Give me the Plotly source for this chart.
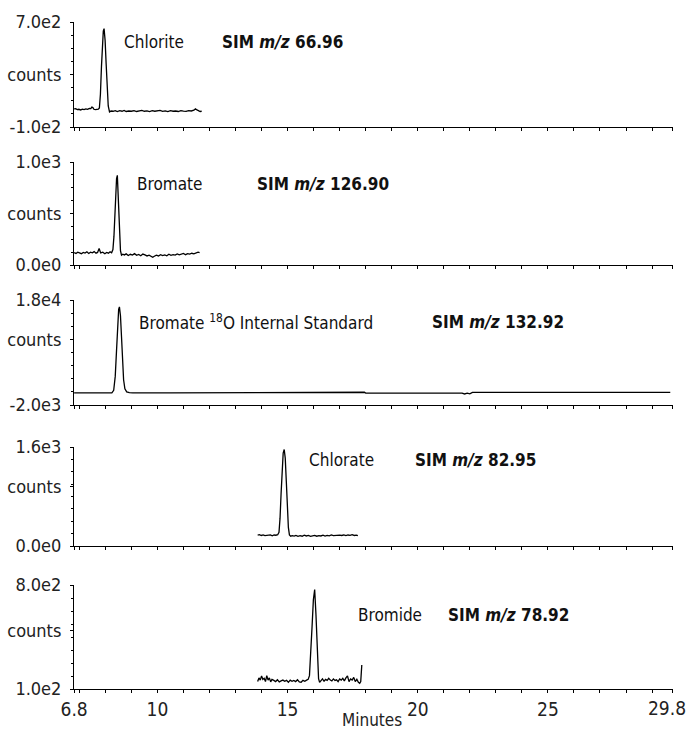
import plotly.graph_objects as go

# ---------------- data ----------------
t_chlorite = [6.80, 6.86, 6.92, 6.98, 7.05, 7.12, 7.18, 7.25, 7.32, 7.38, 7.44, 7.48,
              7.52, 7.56, 7.62, 7.68, 7.73, 7.77, 7.81, 7.85, 7.89, 7.92, 7.95, 7.99,
              8.03, 8.07, 8.11, 8.16, 8.22, 8.30, 8.38, 8.46, 8.55, 8.64, 8.72, 8.80,
              8.90, 9.00, 9.10, 9.20, 9.30, 9.40, 9.50, 9.60, 9.70, 9.80, 9.90, 10.00,
              10.10, 10.20, 10.30, 10.40, 10.50, 10.60, 10.70, 10.80, 10.90, 11.00, 11.10,
              11.20, 11.30, 11.40, 11.46, 11.52, 11.58, 11.64, 11.70]
v_chlorite = [38, 40, 33, 35, 30, 36, 33, 38, 35, 42, 40, 52,
              48, 35, 33, 36, 36, 45, 150, 360, 540, 630, 650, 560,
              380, 190, 60, 15, 22, 20, 25, 18, 24, 20, 26, 18,
              22, 20, 25, 18, 22, 26, 20, 23, 18, 24, 20, 22,
              26, 19, 23, 18, 24, 20, 22, 18, 25, 21, 19,
              24, 22, 28, 38, 30, 22, 18, 20]

t_bromate = [6.80, 6.87, 6.94, 7.01, 7.08, 7.15, 7.22, 7.29, 7.36, 7.43, 7.50, 7.57, 7.64,
             7.70, 7.76, 7.82, 7.90, 7.98, 8.05, 8.12, 8.18, 8.24, 8.29,
             8.33, 8.37, 8.40, 8.43, 8.46, 8.50, 8.54, 8.58, 8.62, 8.67,
             8.73, 8.80, 8.88, 8.96, 9.04, 9.12, 9.20, 9.28, 9.36, 9.44,
             9.52, 9.60, 9.68, 9.76, 9.82, 9.88, 9.96, 10.04, 10.12, 10.20,
             10.28, 10.36, 10.44, 10.52, 10.60, 10.68, 10.76, 10.84, 10.92, 11.00,
             11.08, 11.16, 11.24, 11.32, 11.40, 11.48, 11.56, 11.62]
v_bromate = [120, 112, 125, 118, 110, 122, 116, 128, 112, 124, 118, 130, 115,
             122, 160, 118, 125, 110, 122, 115, 128, 118, 150,
             280, 520, 720, 840, 870, 640, 330, 140, 95, 105,
             98, 108, 92, 104, 96, 110, 94, 102, 90, 106,
             98, 88, 95, 82, 75, 85, 95, 88, 100, 92,
             98, 90, 104, 94, 100, 96, 108, 98, 104, 112,
             100, 110, 105, 114, 108, 118, 125, 120]

t_is = [6.80, 7.50, 8.00, 8.25, 8.32, 8.38, 8.43, 8.47, 8.51, 8.54,
        8.58, 8.62, 8.66, 8.70, 8.75, 8.82, 8.92, 9.05, 10.50, 12.00,
        13.80, 13.85, 15.50, 17.00, 17.95, 18.00, 19.50, 21.00, 21.50, 21.60,
        21.70, 21.80, 21.90, 22.00, 22.10, 24.00, 26.00, 28.00, 29.70]
v_is = [300, 310, 300, 320, 800, 3500, 8500, 13500, 16200, 16700,
        15000, 11000, 6000, 2800, 1100, 500, 340, 310, 300, 305,
        300, 420, 430, 420, 425, 260, 250, 255, 250, 120,
        250, 100, 250, 130, 400, 410, 400, 405, 400]

t_chlorate = [13.85, 13.92, 13.99, 14.06, 14.13, 14.20, 14.27, 14.34, 14.41, 14.48, 14.55, 14.62,
              14.67, 14.71, 14.75, 14.79, 14.83, 14.87, 14.91, 14.95, 14.99, 15.03,
              15.07, 15.12, 15.18, 15.25, 15.32, 15.40, 15.48, 15.56, 15.64, 15.72,
              15.80, 15.88, 15.96, 16.04, 16.12, 16.20, 16.28, 16.36, 16.44, 16.52,
              16.60, 16.68, 16.76, 16.84, 16.92, 17.00, 17.08, 17.16, 17.24, 17.32,
              17.40, 17.48, 17.56, 17.64, 17.70]
v_chlorate = [175, 182, 170, 178, 168, 176, 172, 180, 166, 178, 174, 182,
              220, 450, 850, 1250, 1500, 1560, 1420, 1050, 620, 300,
              180, 158, 168, 160, 172, 155, 166, 158, 175, 162,
              170, 155, 165, 172, 158, 168, 162, 175, 160, 170,
              165, 178, 168, 172, 165, 176, 170, 180, 168, 178,
              172, 182, 170, 176, 168]

t_bromide = [13.85, 13.90, 13.95, 14.00, 14.05, 14.10, 14.15, 14.20, 14.25, 14.30, 14.35, 14.40,
             14.47, 14.54, 14.61, 14.68, 14.75, 14.82, 14.89, 14.96, 15.03, 15.10,
             15.17, 15.24, 15.31, 15.38, 15.45, 15.52, 15.59, 15.66, 15.73, 15.79,
             15.84, 15.89, 15.94, 15.99, 16.04, 16.09, 16.14, 16.19, 16.23, 16.28,
             16.34, 16.40, 16.46, 16.52, 16.58, 16.64, 16.70, 16.76, 16.82, 16.88,
             16.94, 17.00, 17.06, 17.12, 17.18, 17.24, 17.30, 17.36, 17.42, 17.48,
             17.54, 17.60, 17.66, 17.72, 17.77, 17.81, 17.85]
v_bromide = [150, 175, 160, 188, 165, 172, 150, 190, 160, 175, 148, 165,
             158, 150, 162, 148, 155, 160, 152, 158, 145, 160,
             152, 158, 150, 162, 148, 145, 158, 152, 160, 165,
             190, 330, 520, 700, 770, 600, 350, 170, 145, 158,
             168, 152, 165, 158, 172, 160, 155, 168, 158, 162,
             150, 168, 160, 172, 155, 175, 188, 150, 168, 160,
             178, 150, 165, 145, 138, 150, 262]

series_t = [t_chlorite, t_bromate, t_is, t_chlorate, t_bromide]
series_v = [v_chlorite, v_bromate, v_is, v_chlorate, v_bromide]

compound_labels = ["Chlorite", "Bromate", "Bromate <sup>18</sup>O Internal Standard",
                   "Chlorate", "Bromide"]
sim_labels = ["<b>SIM <i>m/z</i> 66.96</b>", "<b>SIM <i>m/z</i> 126.90</b>",
              "<b>SIM <i>m/z</i> 132.92</b>", "<b>SIM <i>m/z</i> 82.95</b>",
              "<b>SIM <i>m/z</i> 78.92</b>"]

y_low = [-100, 0, -2000, 0, 100]
y_high = [700, 1000, 18000, 1600, 800]
y_low_text = ["-1.0e2", "0.0e0", "-2.0e3", "0.0e0", "1.0e2"]
y_high_text = ["7.0e2", "1.0e3", "1.8e4", "1.6e3", "8.0e2"]

x_tick_vals = [6.8, 10, 15, 20, 25, 29.8]
x_tick_text = ["6.8", "10", "15", "20", "25", "29.8"]
x_title = "Minutes"

for a, b in zip(series_t, series_v):
    assert len(a) == len(b), (len(a), len(b))

# ---------------- layout ----------------
W, H = 689, 730
ML, MR, MT, MB = 74, 16, 22, 41
plot_h = H - MT - MB
panel_px = [(22, 127), (162, 265), (300, 405), (447, 546), (585, 689)]  # (top, bottom)
counts_frac = [0.5, 0.5, 0.62, 0.6, 0.56]

# annotation pixel positions (left x, centre y)
comp_px = [(122, 42), (135, 184), (137, 322), (307, 460), (356, 615)]
sim_px = [(220, 42), (255, 184), (430, 322), (413, 460), (446, 615)]

FONT = "DejaVu Sans Condensed, Liberation Sans Narrow, Arial Narrow, Liberation Sans, sans-serif"
XMIN, XMAX = 6.8, 29.8
TICK_Y = 708  # centre of bottom tick labels (px)


def px_to_min(px):
    return XMIN + (px - ML) / (W - ML - MR) * (XMAX - XMIN)


def py_to_paper(py):
    return (H - MB - py) / plot_h


fig = go.Figure()
annotations = []
for i in range(5):
    k = "" if i == 0 else str(i + 1)
    fig.add_trace(go.Scatter(x=series_t[i], y=series_v[i], mode="lines",
                             line=dict(color="black", width=1.3),
                             xaxis="x" + k, yaxis="y" + k, showlegend=False,
                             hoverinfo="skip"))
    top, bot = panel_px[i]
    dom = [py_to_paper(bot), py_to_paper(top)]
    lo, hi = y_low[i], y_high[i]
    cval = lo + counts_frac[i] * (hi - lo)
    step = (hi - lo) / 8
    # the last label (29.8) sits at the page edge; its tick is a minor tick and
    # its label is drawn right-aligned below
    fig.update_layout(**{
        "xaxis" + k: dict(domain=[0, 1], range=[XMIN - 0.005, XMAX + 0.005], anchor="y" + k,
                          showline=True, linecolor="black", linewidth=1,
                          ticks="outside", ticklen=3, tickwidth=1, tickcolor="black",
                          tickvals=x_tick_vals[:-1], ticktext=x_tick_text[:-1],
                          showticklabels=(i == 4), showgrid=False, zeroline=False,
                          minor=dict(tickvals=list(range(7, 30)) + [x_tick_vals[-1]],
                                     ticks="outside", ticklen=3, tickcolor="black",
                                     tickwidth=1),
                          tickfont=dict(family=FONT, size=19, color="#222"),
                          ticklabeloverflow="allow",
                          automargin=False, fixedrange=True),
        "yaxis" + k: dict(domain=dom, range=[lo, hi], anchor="x" + k,
                          showline=True, linecolor="black", linewidth=1,
                          ticks="outside", ticklen=3, tickwidth=1, tickcolor="black",
                          tickvals=[lo, cval, hi],
                          ticktext=[y_low_text[i], "counts", y_high_text[i]],
                          showgrid=False, zeroline=False,
                          minor=dict(tickvals=[lo + j * step for j in range(9)],
                                     ticks="outside", ticklen=2, tickcolor="black",
                                     tickwidth=1),
                          tickfont=dict(family=FONT, size=18, color="#222"),
                          ticklabeloverflow="allow",
                          ticklabelstandoff=5, automargin=False, fixedrange=True),
    })
    for txt, (px, py), size in ((compound_labels[i], comp_px[i], 17),
                                (sim_labels[i], sim_px[i], 17)):
        yv = hi - (py - top) / (bot - top) * (hi - lo)
        annotations.append(dict(x=px_to_min(px), y=yv, xref="x" + k, yref="y" + k,
                                text=txt, showarrow=False, xanchor="left",
                                yanchor="middle",
                                font=dict(family=FONT, size=size, color="#111")))

# right-most x tick label, kept inside the page
annotations.append(dict(x=1 + (MR - 2) / (W - ML - MR), y=py_to_paper(TICK_Y),
                        xref="paper", yref="paper", text=x_tick_text[-1],
                        showarrow=False, xanchor="right", yanchor="middle",
                        borderpad=0,
                        font=dict(family=FONT, size=19, color="#222")))
# axis title "Minutes" placed just under the bottom tick labels
annotations.append(dict(x=px_to_min(372), y=py_to_paper(720),
                        xref="x5", yref="paper", text=x_title, showarrow=False,
                        xanchor="center", yanchor="middle", borderpad=0,
                        font=dict(family=FONT, size=17, color="#222")))

fig.update_layout(
    width=W, height=H,
    margin=dict(l=ML, r=MR, t=MT, b=MB, pad=0),
    paper_bgcolor="white", plot_bgcolor="white",
    annotations=annotations,
)

fig.write_html("out.html")
